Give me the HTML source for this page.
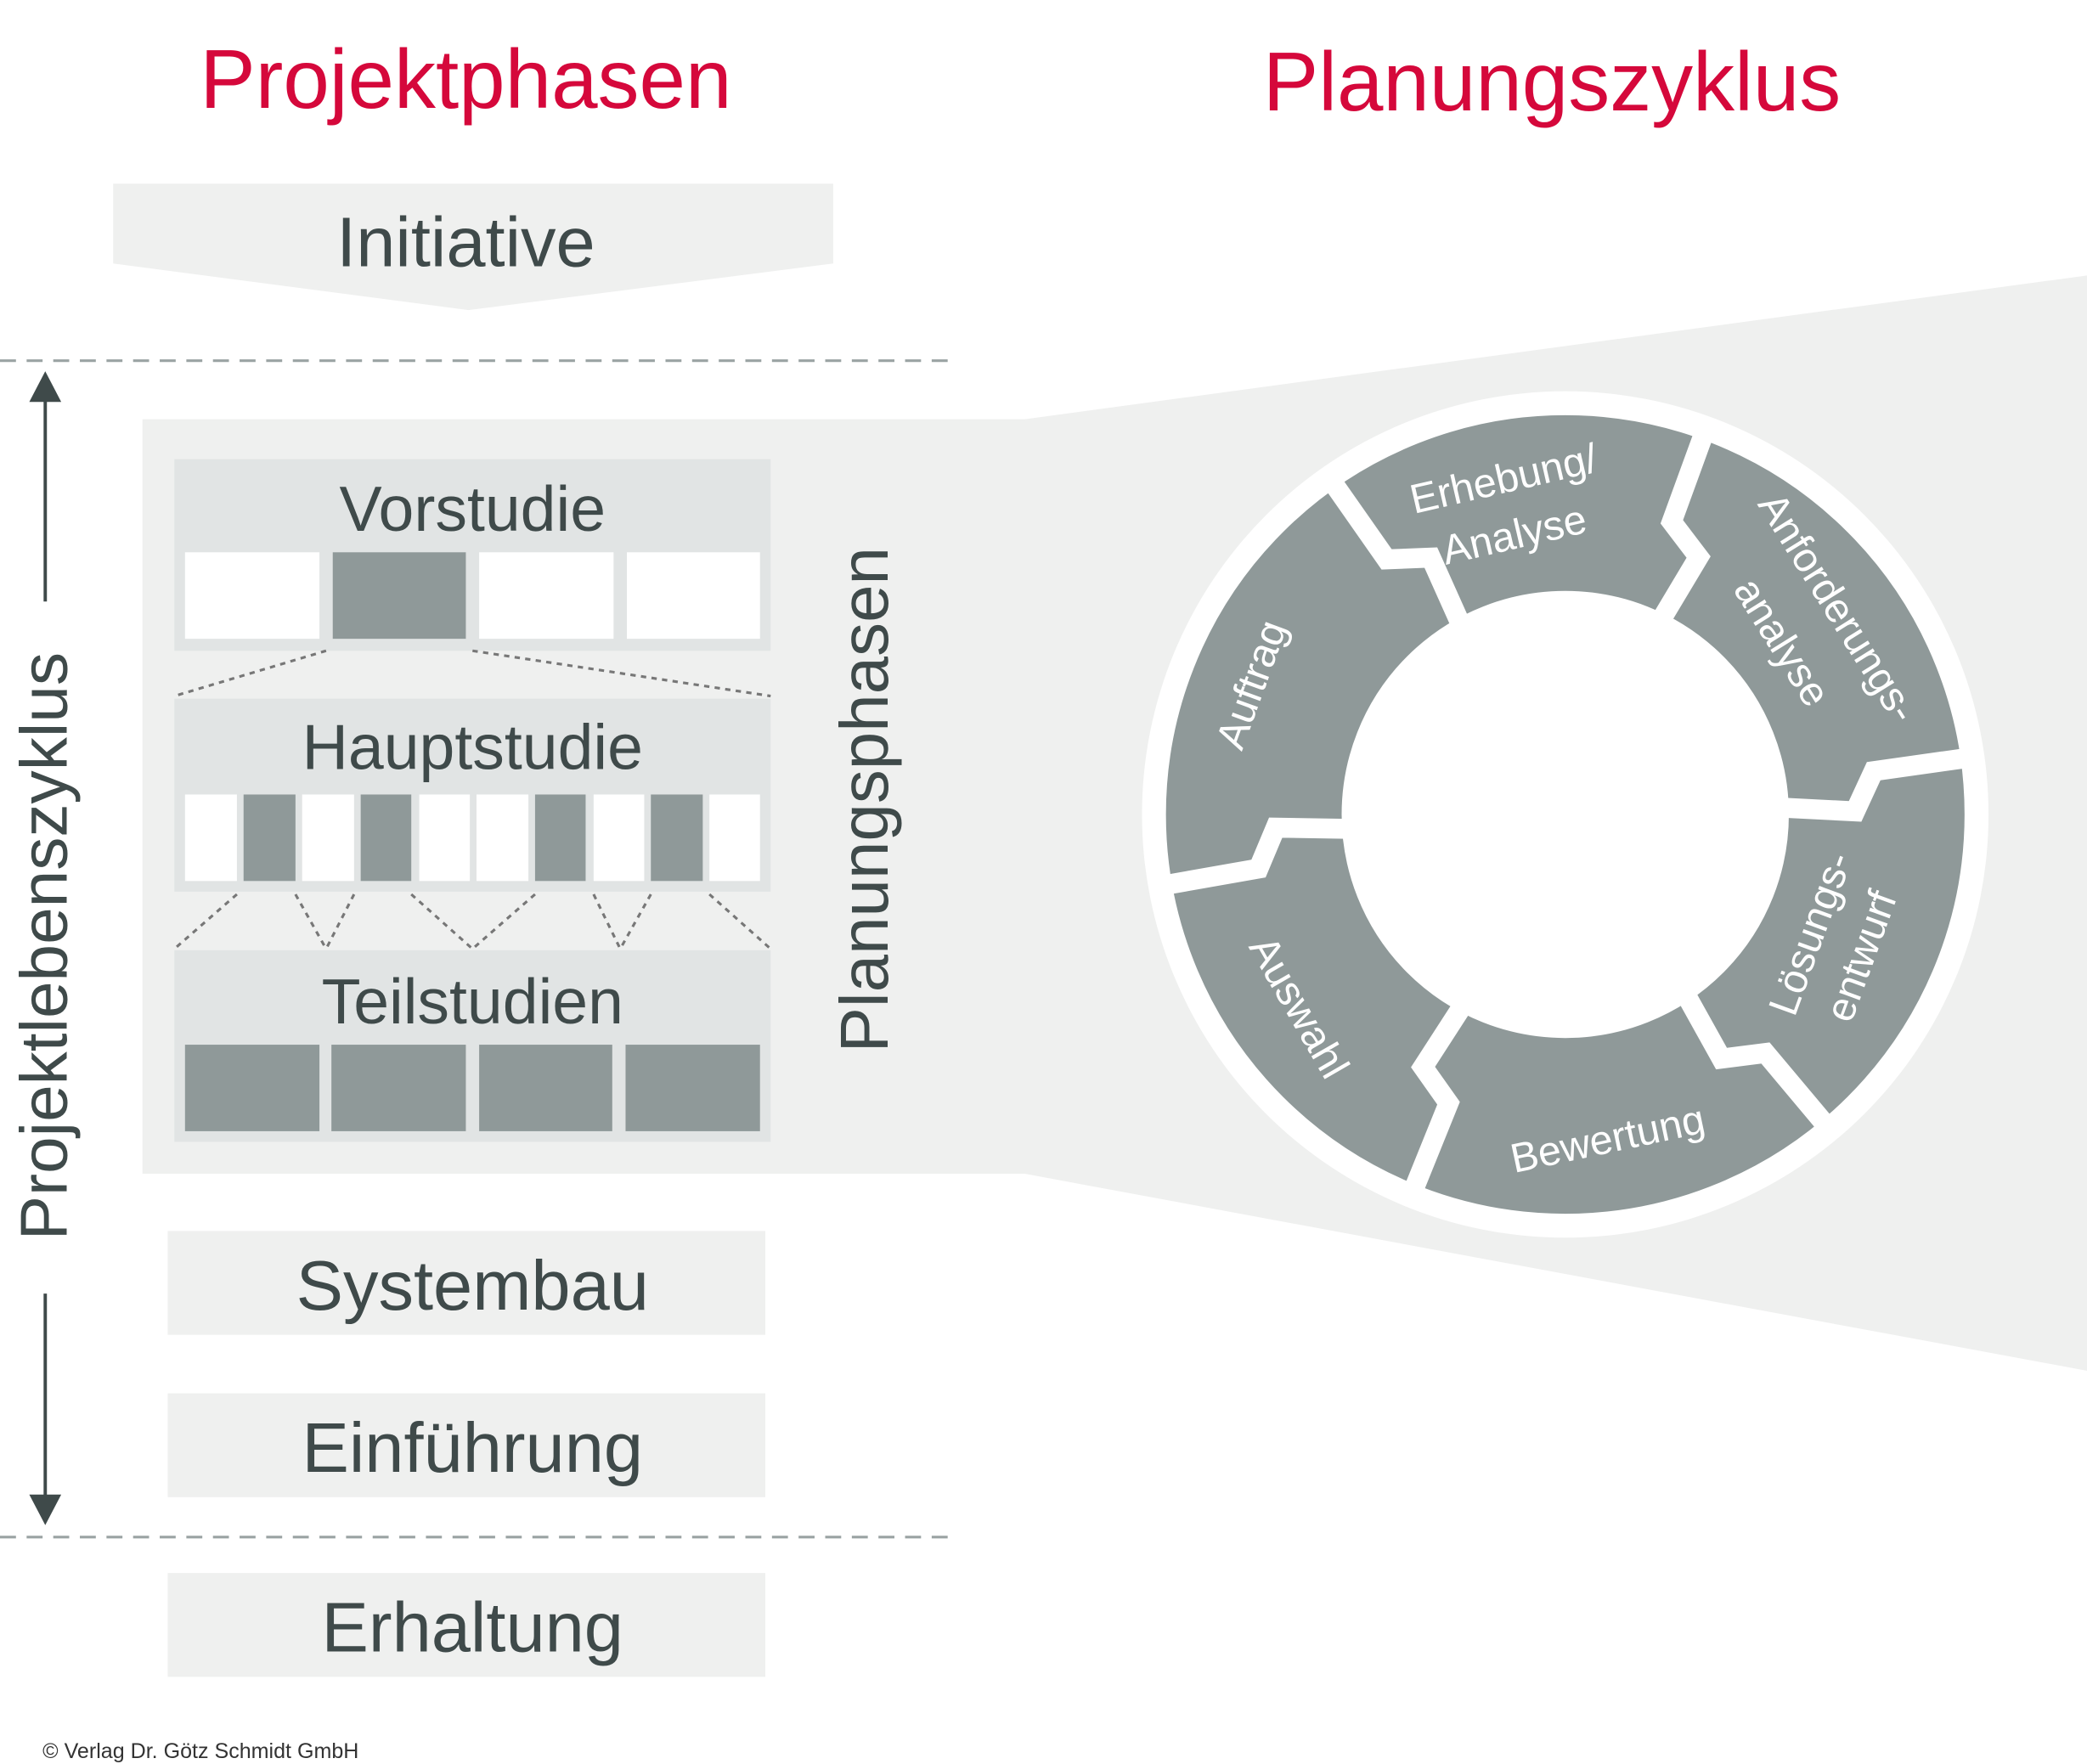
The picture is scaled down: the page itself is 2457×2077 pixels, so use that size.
<!DOCTYPE html>
<html><head><meta charset="utf-8"><style>html,body{margin:0;padding:0;background:#fff}svg{display:block}</style></head>
<body>
<svg width="2457" height="2077" viewBox="0 0 1568 1325.5" preserveAspectRatio="none" xmlns="http://www.w3.org/2000/svg" font-family="Liberation Sans, sans-serif">
<rect width="1568" height="1326" fill="#fff"/>
<text x="350" y="81" font-size="62.5" fill="#d5083b" text-anchor="middle">Projektphasen</text>
<text x="1166" y="83" font-size="62.5" fill="#d5083b" text-anchor="middle">Planungszyklus</text>
<polygon points="85,138 626,138 626,198 352,233 85,198" fill="#eff0ef"/>
<text x="350" y="200" font-size="53" fill="#3f4a4a" text-anchor="middle">Initiative</text>
<line x1="0" y1="271" x2="715" y2="271" stroke="#9aa3a3" stroke-width="2" stroke-dasharray="12,8"/>
<line x1="0" y1="1155" x2="715" y2="1155" stroke="#9aa3a3" stroke-width="2" stroke-dasharray="12,8"/>
<line x1="34" y1="295" x2="34" y2="452" stroke="#3f4a4a" stroke-width="2.5"/>
<polygon points="22,302 46,302 34,279" fill="#3f4a4a"/>
<line x1="34" y1="972" x2="34" y2="1130" stroke="#3f4a4a" stroke-width="2.5"/>
<polygon points="22,1123 46,1123 34,1146" fill="#3f4a4a"/>
<text transform="translate(50,711) rotate(-90)" font-size="50" fill="#3f4a4a" text-anchor="middle">Projektlebenszyklus</text>
<polygon points="107,315 770,315 1568,207 1568,1030 770,882 107,882" fill="#eff0ef"/>
<rect x="131" y="345" width="448" height="144" fill="#e1e4e4"/>
<text x="355" y="399" font-size="48" fill="#3f4a4a" text-anchor="middle">Vorstudie</text>
<rect x="139" y="415" width="101" height="65" fill="#fff"/>
<rect x="250" y="415" width="100" height="65" fill="#8f9999"/>
<rect x="360" y="415" width="101" height="65" fill="#fff"/>
<rect x="471" y="415" width="100" height="65" fill="#fff"/>
<g stroke="#777" stroke-width="2" stroke-dasharray="4,4" fill="none">
<line x1="245" y1="489" x2="131" y2="523"/><line x1="355" y1="489" x2="579" y2="523"/>
<line x1="178" y1="672" x2="131" y2="713"/><line x1="222" y1="672" x2="245" y2="713"/>
<line x1="266" y1="672" x2="245" y2="713"/><line x1="309" y1="672" x2="355" y2="713"/>
<line x1="402" y1="672" x2="355" y2="713"/><line x1="446" y1="672" x2="466" y2="713"/>
<line x1="489" y1="672" x2="466" y2="713"/><line x1="533" y1="672" x2="579" y2="713"/>
</g>
<rect x="131" y="525" width="448" height="145" fill="#e1e4e4"/>
<text x="355" y="578" font-size="48" fill="#3f4a4a" text-anchor="middle">Hauptstudie</text>
<g>
<rect x="139" y="597" width="39" height="65" fill="#fff"/>
<rect x="183" y="597" width="39" height="65" fill="#8f9999"/>
<rect x="227" y="597" width="39" height="65" fill="#fff"/>
<rect x="271" y="597" width="38" height="65" fill="#8f9999"/>
<rect x="315" y="597" width="38" height="65" fill="#fff"/>
<rect x="358" y="597" width="39" height="65" fill="#fff"/>
<rect x="402" y="597" width="38" height="65" fill="#8f9999"/>
<rect x="446" y="597" width="38" height="65" fill="#fff"/>
<rect x="489" y="597" width="39" height="65" fill="#8f9999"/>
<rect x="533" y="597" width="38" height="65" fill="#fff"/>
</g>
<rect x="131" y="714" width="448" height="144" fill="#e1e4e4"/>
<text x="355" y="769" font-size="48" fill="#3f4a4a" text-anchor="middle">Teilstudien</text>
<rect x="139" y="785" width="101" height="65" fill="#8f9999"/>
<rect x="249" y="785" width="101" height="65" fill="#8f9999"/>
<rect x="360" y="785" width="100" height="65" fill="#8f9999"/>
<rect x="470" y="785" width="101" height="65" fill="#8f9999"/>
<text transform="translate(667,601) rotate(-90)" font-size="51" fill="#3f4a4a" text-anchor="middle">Planungsphasen</text>
<rect x="126" y="925" width="449" height="78" fill="#eff0ef"/>
<text x="355" y="984" font-size="53" fill="#3f4a4a" text-anchor="middle">Systembau</text>
<rect x="126" y="1047" width="449" height="78" fill="#eff0ef"/>
<text x="355" y="1106" font-size="53" fill="#3f4a4a" text-anchor="middle">Einführung</text>
<rect x="126" y="1182" width="449" height="78" fill="#eff0ef"/>
<text x="355" y="1241" font-size="53" fill="#3f4a4a" text-anchor="middle">Erhaltung</text>
<text x="32" y="1321" font-size="16" fill="#333">© Verlag Dr. Götz Schmidt GmbH</text>
<circle cx="1176" cy="612" r="318" fill="#fff"/>
<circle cx="1176" cy="612" r="234" fill="none" stroke="#8f9999" stroke-width="132"/>
<g stroke="#fff" stroke-width="15" fill="none" stroke-linejoin="miter">
<g transform="rotate(-125 1176 612)"><polyline points="1490,612 1410,612 1392,640 1340,630"/></g>
<g transform="rotate(-70 1176 612)"><polyline points="1490,612 1410,612 1392,640 1340,630"/></g>
<g transform="rotate(-8 1176 612)"><polyline points="1490,612 1410,612 1392,640 1340,630"/></g>
<g transform="rotate(50 1176 612)"><polyline points="1490,612 1410,612 1392,640 1340,630"/></g>
<g transform="rotate(112 1176 612)"><polyline points="1490,612 1410,612 1392,640 1340,630"/></g>
<g transform="rotate(170 1176 612)"><polyline points="1490,612 1410,612 1392,640 1340,630"/></g>
</g>
<g fill="#fff" font-size="31" text-anchor="middle">
<text transform="translate(950,518) rotate(-70)">Auftrag</text>
<text transform="translate(1132,370) rotate(-13)">Erhebung/</text>
<text transform="translate(1140,412) rotate(-13)">Analyse</text>
<text transform="translate(1372,462) rotate(58)">Anforderungs-</text>
<text transform="translate(1330,488) rotate(58)">analyse</text>
<text transform="translate(1370,705) rotate(-70)">Lösungs-</text>
<text transform="translate(1408,722) rotate(-70)">entwurf</text>
<text transform="translate(1210,866) rotate(-12)">Bewertung</text>
<text transform="translate(967,762) rotate(60)">Auswahl</text>
</g>
</svg>
</body></html>
